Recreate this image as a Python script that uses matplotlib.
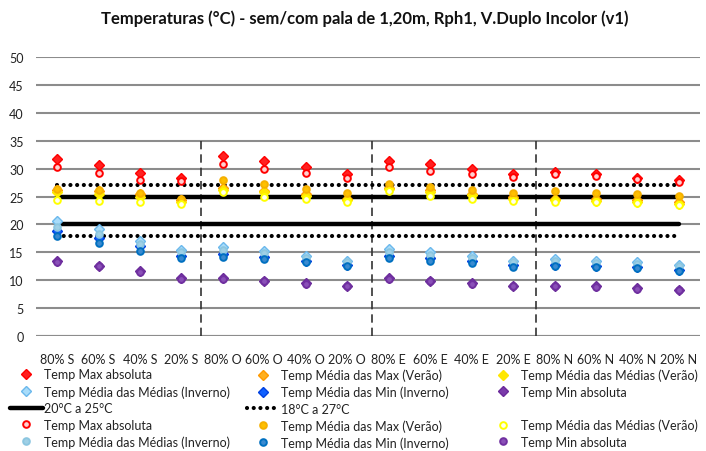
import matplotlib
matplotlib.use("Agg")
import matplotlib.pyplot as plt
from matplotlib.lines import Line2D
import numpy as np

plt.rcParams['font.family'] = ['Lato', 'DejaVu Sans']

categories = ["80% S", "60% S", "40% S", "20% S",
              "80% O", "60% O", "40% O", "20% O",
              "80% E", "60% E", "40% E", "20% E",
              "80% N", "60% N", "40% N", "20% N"]

# sem pala (diamonds)
max_abs_d = [31.7, 30.6, 29.2, 28.4, 32.3, 31.4, 30.2, 29.1, 31.4, 30.8, 29.9, 29.1, 29.4, 29.0, 28.4, 27.9]
med_max_d = [26.2, 26.0, 25.4, 24.4, 26.5, 26.0, 25.4, 24.6, 26.6, 26.1, 25.5, 24.9, 24.6, 24.5, 24.3, 24.0]
med_med_ver_d = [25.8, 25.4, 24.9, 24.1, 26.1, 25.8, 25.1, 24.3, 26.3, 25.8, 25.2, 24.6, 24.3, 24.2, 24.0, 23.7]
med_med_inv_d = [20.6, 19.2, 17.1, 15.5, 16.0, 15.2, 14.3, 13.5, 15.6, 15.1, 14.3, 13.5, 13.8, 13.5, 13.2, 12.8]
med_min_inv_d = [18.9, 17.6, 16.1, 14.3, 14.7, 14.2, 13.4, 12.8, 14.4, 14.0, 13.5, 12.8, 12.8, 12.5, 12.3, 11.9]
min_abs_d = [13.4, 12.6, 11.6, 10.4, 10.4, 9.9, 9.5, 9.0, 10.4, 9.9, 9.5, 9.0, 9.0, 8.9, 8.6, 8.3]

# com pala (circles)
max_abs_c = [30.3, 29.3, 27.9, 27.8, 30.9, 30.0, 29.3, 28.4, 30.2, 29.6, 29.1, 28.5, 29.0, 28.7, 28.2, 27.6]
med_max_c = [26.3, 26.1, 25.6, 24.6, 27.9, 27.3, 26.3, 25.7, 27.3, 26.7, 26.1, 25.7, 26.0, 25.7, 25.4, 25.1]
med_med_ver_c = [24.4, 24.2, 24.0, 23.6, 25.8, 24.9, 24.6, 24.0, 26.0, 25.1, 24.5, 24.2, 24.0, 24.0, 23.8, 23.5]
med_med_inv_c = [19.6, 18.3, 16.5, 15.0, 15.5, 14.8, 13.9, 13.2, 15.1, 14.6, 13.9, 13.2, 13.4, 13.1, 12.9, 12.5]
med_min_inv_c = [18.0, 16.7, 15.3, 14.0, 14.2, 13.8, 13.2, 12.5, 14.0, 13.5, 13.1, 12.4, 12.5, 12.3, 12.1, 11.7]
min_abs_c = [13.3, 12.5, 11.5, 10.3, 10.3, 9.8, 9.4, 8.9, 10.3, 9.8, 9.4, 8.9, 8.9, 8.8, 8.5, 8.2]

comfort_solid = [20, 25]
comfort_dotted = [18, 27]
separators = [4.47, 8.60, 12.55]
separator_span = [0, 35]

title = "Temperaturas (°C) - sem/com pala de 1,20m, Rph1, V.Duplo Incolor (v1)"

x = np.arange(1, len(categories) + 1)

fig = plt.figure(figsize=(7.06, 4.52), dpi=100)
ax = fig.add_axes([0.0515, 0.2544, 0.9395, 0.6173])
ax.set_xlim(0.5, 16.5)
ax.set_ylim(0, 50)
ax.set_yticks(np.arange(0, 51, 5))
ax.set_xticks(x)
ax.set_xticklabels(categories)
for s in ax.spines.values():
    s.set_visible(False)
ax.yaxis.grid(True, color='#8c8c8c', lw=1.5)
ax.set_axisbelow(True)
ax.tick_params(axis='both', length=0, labelsize=9, colors='#222222')
ax.tick_params(axis='x', pad=12)
ax.tick_params(axis='y', pad=9)
ax.axhline(0, color='#8c8c8c', lw=1.5, zorder=0.5)

ax.vlines(separators, separator_span[0], separator_span[1], color='#333333', lw=1.2,
          linestyles=[(0, (5, 3))], zorder=1)

h_solid = None
for v in comfort_solid:
    h_solid, = ax.plot([x[0], x[-1]], [v, v], color='black', lw=3.2, solid_capstyle='round', zorder=2)
h_dot = None
for v in comfort_dotted:
    h_dot, = ax.plot([x[0], x[-1]], [v, v], color='black', lw=3.0,
                     ls=(0, (0.01, 1.6)), dash_capstyle='round', zorder=2)

dia = dict(marker='D', ms=4.8, ls='none', zorder=3)
h1, = ax.plot(x, max_abs_d, color='#ff0000', mfc='#ff2020', mec='#ff0000', **dia)
h2, = ax.plot(x, med_max_d, color='#ff9900', mfc='#ffb020', mec='#ff9900', **dia)
h3, = ax.plot(x, med_med_ver_d, color='#ffff00', mfc='#ffe800', mec='#ffe600', **dia)
h4, = ax.plot(x, med_med_inv_d, color='#7cc4f0', mfc='#a8dcfa', mec='#6bb8ec', **dia)
h5, = ax.plot(x, med_min_inv_d, color='#0050ff', mfc='#1060ff', mec='#0040e0', **dia)
h6, = ax.plot(x, min_abs_d, color='#7030a0', mfc='#7a3aaa', mec='#6a2a9a', **dia)

cir = dict(marker='o', ms=4.8, ls='none', zorder=4, mew=1.4)
c1, = ax.plot(x, max_abs_c, mfc='#ffd0d0', mec='#ff0000', **cir)
c2, = ax.plot(x, med_max_c, mfc='#ffc000', mec='#f5b000', **cir)
c3, = ax.plot(x, med_med_ver_c, mfc='#fffff0', mec='#ffff00', **cir)
c4, = ax.plot(x, med_med_inv_c, mfc='#9fd0e6', mec='#8cc6e0', **cir)
c5, = ax.plot(x, med_min_inv_c, mfc='#3a8ad0', mec='#0070c0', **cir)
c6, = ax.plot(x, min_abs_c, mfc='#8a50b8', mec='#7030a0', **cir)

fig.text(0.517, 0.958, title, ha='center', va='center', fontsize=12, fontweight='bold', color='#111111')

blank = Line2D([], [], ls='none', marker=None)
labels_d = ["Temp Max absoluta", "Temp Média das Max (Verão)", "Temp Média das Médias (Verão)",
            "Temp Média das Médias (Inverno)", "Temp Média das Min (Inverno)", "Temp Min absoluta"]
columns = [
    ([h1, h4, h_solid, c1, c4], [labels_d[0], labels_d[3], "20°C a 25°C", labels_d[0], labels_d[3]], 10),
    ([h2, h5, h_dot, c2, c5], [labels_d[1], labels_d[4], "18°C a 27°C", labels_d[1], labels_d[4]], 247),
    ([h3, h6, blank, c3, c6], [labels_d[2], labels_d[5], " ", labels_d[2], labels_d[5]], 487),
]
for hs, ls_, px in columns:
    leg = fig.legend(hs, ls_, loc='upper left', bbox_to_anchor=(px / 706, 1 - 369.5 / 452),
                     frameon=False, fontsize=9, handlelength=2.6, handletextpad=0.15,
                     labelspacing=0.36, borderaxespad=0, borderpad=0)
    for t in leg.get_texts():
        t.set_color('#222222')

fig.savefig("out.png", dpi=100)
